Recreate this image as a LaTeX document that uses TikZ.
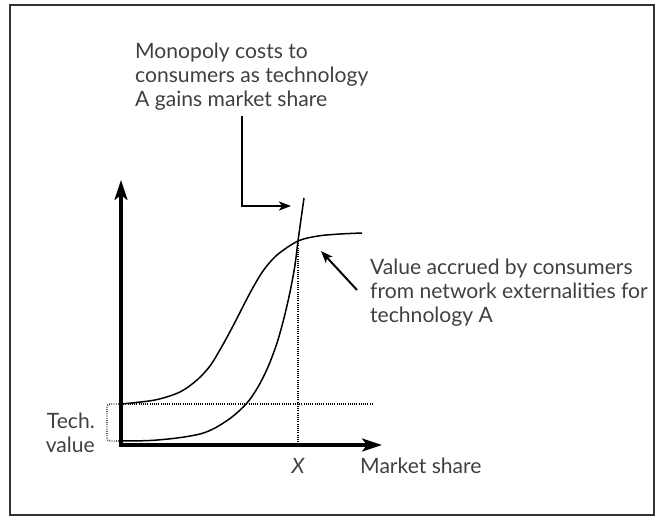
\documentclass[tikz,border=0pt]{standalone}
\usepackage{fontspec}
\setmainfont{Lato}
\usetikzlibrary{arrows.meta}

\definecolor{ink}{HTML}{404040}
\tikzset{
  axis/.style={line width=3.2pt, line join=miter, {Stealth[length=20pt,width=13pt,inset=5pt]}-{Stealth[length=20pt,width=13pt,inset=5pt]}},
  pointer/.style={line width=2pt, -{Stealth[length=12pt,width=9pt,inset=3pt]}},
  curve/.style={line width=1.5pt},
  guide/.style={line width=1.3pt, dash pattern=on 0.8pt off 1.4pt},
  lbl/.style={inner sep=0pt, text=ink, font=\fontsize{21.1}{23.8}\selectfont},
}

\begin{document}
\begin{tikzpicture}[x=1pt,y=-1pt]
	%%%%% START %%%%%
	\useasboundingbox (0,0) rectangle (658,517);
	\draw[line width=2pt, color=black!80] (10,5) rectangle (654,515);
	
	\coordinate (O) at (121,445);
	\coordinate (ytip) at (121,180);
	\coordinate (xtip) at (382,445);
	\coordinate (cross) at (298,241);
	\coordinate (xfoot) at (298,445);
	\coordinate (tvhi) at (121,404);
	\coordinate (tvlo) at (121,441);
	\coordinate (tvend) at (373,404);
	
	\draw[guide] (tvhi) -- (tvend);
	\draw[guide] (cross) -- (xfoot);
	\draw[guide, rounded corners=3pt] (tvhi) -- (107,404) -- (107,441) -- (tvlo);
	
	\draw[axis] (ytip) -- (O) -- (xtip);
	
	\draw[curve] plot[smooth] coordinates {(tvhi) (155,400) (180,392) (197,380) (210,366) (221,348) (233,326) (250,293) (263,271) (277,255) (cross) (318,236) (340,234) (362,233)};
	\draw[curve] plot[smooth] coordinates {(tvlo) (150,440.5) (177,438) (200,434) (215,428) (232,417) (247,403) (258,387) (268,367) (277,343) (284,318) (290,292) (295,265) (cross) (304,198)};
	
	\node[lbl, anchor=north west, align=left] (mono) at (135,43) {Monopoly costs to\\consumers as technology\\A gains market share};
	\coordinate (monotop) at (242,116);
	\coordinate (monotip) at (291,206);
	\draw[pointer] (monotop) |- (monotip);
	
	\node[lbl, anchor=north west, align=left] (value) at (370,259) {Value accrued by consumers\\from network externalities for\\technology A};
	\coordinate (valtail) at (357,290);
	\coordinate (valtip) at (321,251);
	\draw[pointer] (valtail) -- (valtip);
	
	\node[lbl, anchor=north east, align=right] (tech) at (95,413) {Tech.\\value};
	\node[lbl, anchor=north, font=\fontsize{21.1}{23.8}\selectfont\itshape] (xlab) at (298,458) {X};
	\node[lbl, anchor=north west] (share) at (360,458) {Market share};
	%%%%% END %%%%%
\end{tikzpicture}
\end{document}
